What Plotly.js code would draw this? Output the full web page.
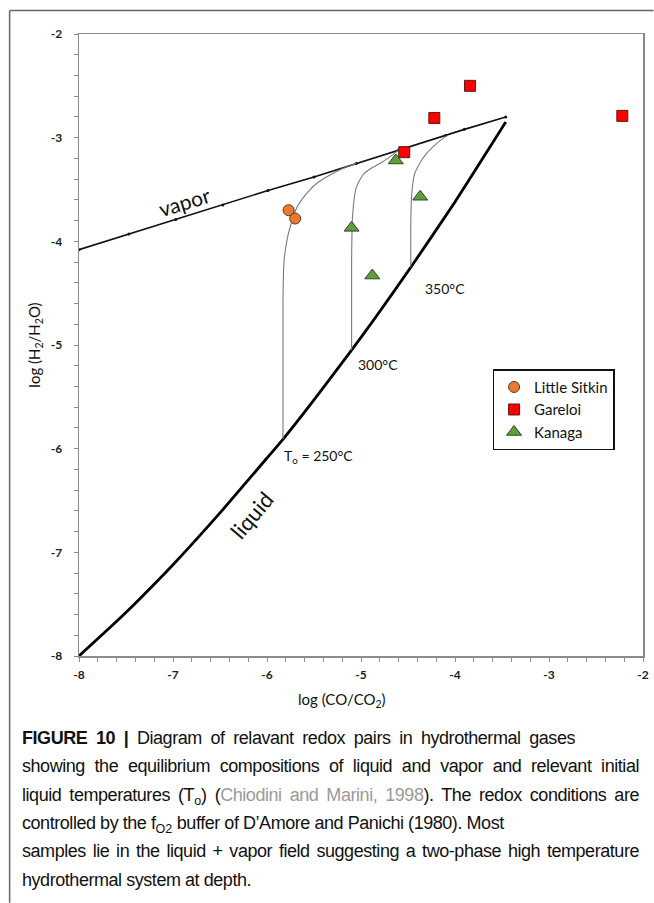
<!DOCTYPE html>
<html>
<head>
<meta charset="utf-8">
<script src="https://cdn.plot.ly/plotly-3.0.1.min.js"></script>
<style>
html,body{margin:0;padding:0;background:#fff;}
#wrap{position:relative;width:654px;height:903px;}
#chart{position:absolute;left:0;top:0;width:654px;height:903px;}
#caption{position:absolute;left:22px;top:724.2px;font-family:"Liberation Sans",Arial,sans-serif;font-size:18px;letter-spacing:-0.45px;color:#111;}
#caption .ln{height:28.3px;line-height:28.3px;white-space:nowrap;}
#caption .just{text-align:justify;text-align-last:justify;white-space:normal;overflow:hidden;}
#caption sub{font-size:12.5px;vertical-align:-4px;line-height:0;letter-spacing:0;}
#caption .cite{color:#9a9a9a;}
</style>
</head>
<body>
<div id="wrap">
<div id="chart"></div>
<div id="caption"></div>
</div>
<script>
// ---- data ----
const vaporX = [-8, -7.47, -6.97, -6.47, -5.99, -5.5, -5.05, -4.6, -4.1, -3.9, -3.46];
const vaporY = [-4.08, -3.93, -3.79, -3.65, -3.51, -3.38, -3.25, -3.12, -2.98, -2.92, -2.80];
const liquidX = [-8, -7.7, -7.4, -7.0, -6.5, -6.0, -5.83, -5.5, -5.1, -4.85, -4.47, -4.0, -3.46];
const liquidY = [-8, -7.75, -7.49, -7.12, -6.62, -6.09, -5.91, -5.53, -5.05, -4.74, -4.25, -3.62, -2.85];
const t250X = [-5.83, -5.83, -5.82, -5.79, -5.75, -5.68, -5.58, -5.47, -5.33, -5.20, -5.05];
const t250Y = [-5.91, -4.6, -4.21, -4.0, -3.85, -3.67, -3.54, -3.44, -3.36, -3.30, -3.25];
const t300X = [-5.10, -5.10, -5.09, -5.05, -4.98, -4.90, -4.80, -4.70, -4.60];
const t300Y = [-5.05, -4.2, -3.76, -3.48, -3.36, -3.30, -3.25, -3.19, -3.12];
const t350X = [-4.47, -4.47, -4.46, -4.43, -4.37, -4.30, -4.20, -4.09];
const t350Y = [-4.25, -3.8, -3.54, -3.35, -3.24, -3.15, -3.06, -2.98];
const sitkinX = [-5.77, -5.70];
const sitkinY = [-3.70, -3.78];
const gareloiX = [-3.84, -4.22, -4.54, -2.22];
const gareloiY = [-2.50, -2.81, -3.14, -2.79];
const kanagaX = [-4.63, -4.37, -5.10, -4.88];
const kanagaY = [-3.22, -3.57, -3.87, -4.33];
const tickVals = [-8, -7, -6, -5, -4, -3, -2];

const captionLines = [
  "<b>FIGURE 10 |</b> Diagram of relavant redox pairs in hydrothermal gases",
  "showing the equilibrium compositions of liquid and vapor and relevant initial",
  "liquid temperatures (T<sub>o</sub>) (<span class='cite'>Chiodini and Marini, 1998</span>). The redox conditions are",
  "controlled by the f<sub>O2</sub> buffer of D’Amore and Panichi (1980). Most",
  "samples lie in the liquid + vapor field suggesting a two-phase high temperature",
  "hydrothermal system at depth."
];
const captionWidths = [553, 617, 617, null, 617, null];

// ---- geometry helpers (pixel -> paper) ----
const W = 654, H = 903;
const mL = 78.5, mR = 10.5, mT = 33.5, mB = 247;
const pw = W - mL - mR, ph = H - mT - mB;
const px = v => (v - mL) / pw;
const py = v => (H - mB - v) / ph;

const thin = {color: '#7a7a7a', width: 1.1, shape: 'spline', smoothing: 0.6};
const traces = [
  {x: vaporX, y: vaporY, mode: 'lines+markers', line: {color: '#111', width: 1.6},
   marker: {size: 3, color: '#111'}, showlegend: false, hoverinfo: 'skip'},
  {x: liquidX, y: liquidY, mode: 'lines', line: {color: '#000', width: 2.8, shape: 'spline', smoothing: 0.5},
   showlegend: false, hoverinfo: 'skip'},
  {x: t250X, y: t250Y, mode: 'lines', line: thin, showlegend: false, hoverinfo: 'skip'},
  {x: t300X, y: t300Y, mode: 'lines', line: thin, showlegend: false, hoverinfo: 'skip'},
  {x: t350X, y: t350Y, mode: 'lines', line: thin, showlegend: false, hoverinfo: 'skip'},
  {x: sitkinX, y: sitkinY, mode: 'markers', name: 'Little Sitkin',
   marker: {symbol: 'circle', size: 11, color: '#EC7A2C', line: {color: '#5a3a20', width: 1}}},
  {x: gareloiX, y: gareloiY, mode: 'markers', name: 'Gareloi',
   marker: {symbol: 'square', size: 11, color: '#FF0000', line: {color: '#5a1a1a', width: 1}}},
  {x: kanagaX, y: kanagaY, mode: 'markers', name: 'Kanaga',
   marker: {symbol: 'triangle-up', size: 13, color: '#5E9E3C', line: {color: '#2f4a20', width: 1}}}
];

const fam = 'Lato, "Open Sans", sans-serif';
const tickFont = {family: fam, size: 12, color: '#222', weight: 700};
const annotations = [
  {x: -6.88, y: -3.614, xref: 'x', yref: 'y', text: 'vapor', showarrow: false, textangle: -17,
   font: {family: fam, size: 21, color: '#111'}},
  {x: -6.17, y: -6.64, xref: 'x', yref: 'y', text: 'liquid', showarrow: false, textangle: -50,
   font: {family: fam, size: 22, color: '#111'}},
  {x: -5.84, y: -6.08, xref: 'x', yref: 'y', text: 'T<sub>o</sub> = 250°C', showarrow: false, xanchor: 'left',
   font: {family: fam, size: 14, color: '#111'}},
  {x: -5.05, y: -5.19, xref: 'x', yref: 'y', text: '300°C', showarrow: false, xanchor: 'left',
   font: {family: fam, size: 14, color: '#111'}},
  {x: -4.34, y: -4.455, xref: 'x', yref: 'y', text: '350°C', showarrow: false, xanchor: 'left',
   font: {family: fam, size: 14, color: '#111'}},
  {x: px(342), y: py(700), xref: 'paper', yref: 'paper', text: 'log (CO/CO<sub>2</sub>)', showarrow: false,
   xanchor: 'center', yanchor: 'middle', font: {family: fam, size: 15, color: '#111'}}
];

const layout = {
  width: W, height: H,
  margin: {l: mL, r: mR, t: mT, b: mB, pad: 0},
  paper_bgcolor: '#fff', plot_bgcolor: '#fff',
  showlegend: true,
  legend: {x: px(615), y: py(369), xanchor: 'right', yanchor: 'top',
    bordercolor: '#111', borderwidth: 1.5, bgcolor: '#fff',
    font: {family: fam, size: 15, color: '#111'},
    itemwidth: 30, tracegroupgap: 0},
  xaxis: {range: [-8, -2], tickvals: tickVals, ticktext: tickVals.map(String),
    showgrid: false, zeroline: false, showline: true, mirror: true, linecolor: '#8a8a8a', linewidth: 1.5,
    ticks: 'outside', ticklen: 4, tickcolor: '#8a8a8a', tickfont: tickFont, ticklabelstandoff: 3,
    minor: {dtick: 0.2, ticks: 'outside', ticklen: 4, tickcolor: '#8a8a8a', showgrid: false}},
  yaxis: {range: [-8, -2], tickvals: tickVals, ticktext: tickVals.map(String),
    showgrid: false, zeroline: false, showline: true, mirror: true, linecolor: '#8a8a8a', linewidth: 1.5,
    ticks: 'outside', ticklen: 4, tickcolor: '#8a8a8a', tickfont: tickFont, ticklabelstandoff: 9,
    minor: {dtick: 0.2, ticks: 'outside', ticklen: 4, tickcolor: '#8a8a8a', showgrid: false},
    title: {text: 'log (H<sub>2</sub>/H<sub>2</sub>O)', standoff: 6, font: {family: fam, size: 15, color: '#111'}}},
  shapes: [
    {type: 'line', xref: 'paper', yref: 'paper', x0: px(9), x1: px(654), y0: py(10), y1: py(10),
     line: {color: '#666', width: 1.5}},
    {type: 'line', xref: 'paper', yref: 'paper', x0: px(9), x1: px(9), y0: py(10), y1: py(903),
     line: {color: '#666', width: 1.5}}
  ],
  annotations: annotations
};

Plotly.newPlot('chart', traces, layout, {displayModeBar: false, staticPlot: true});

const cap = document.getElementById('caption');
captionLines.forEach((t, i) => {
  const d = document.createElement('div');
  d.className = 'ln' + (captionWidths[i] ? ' just' : '');
  if (captionWidths[i]) d.style.width = captionWidths[i] + 'px';
  d.innerHTML = t;
  cap.appendChild(d);
});
</script>
</body>
</html>
